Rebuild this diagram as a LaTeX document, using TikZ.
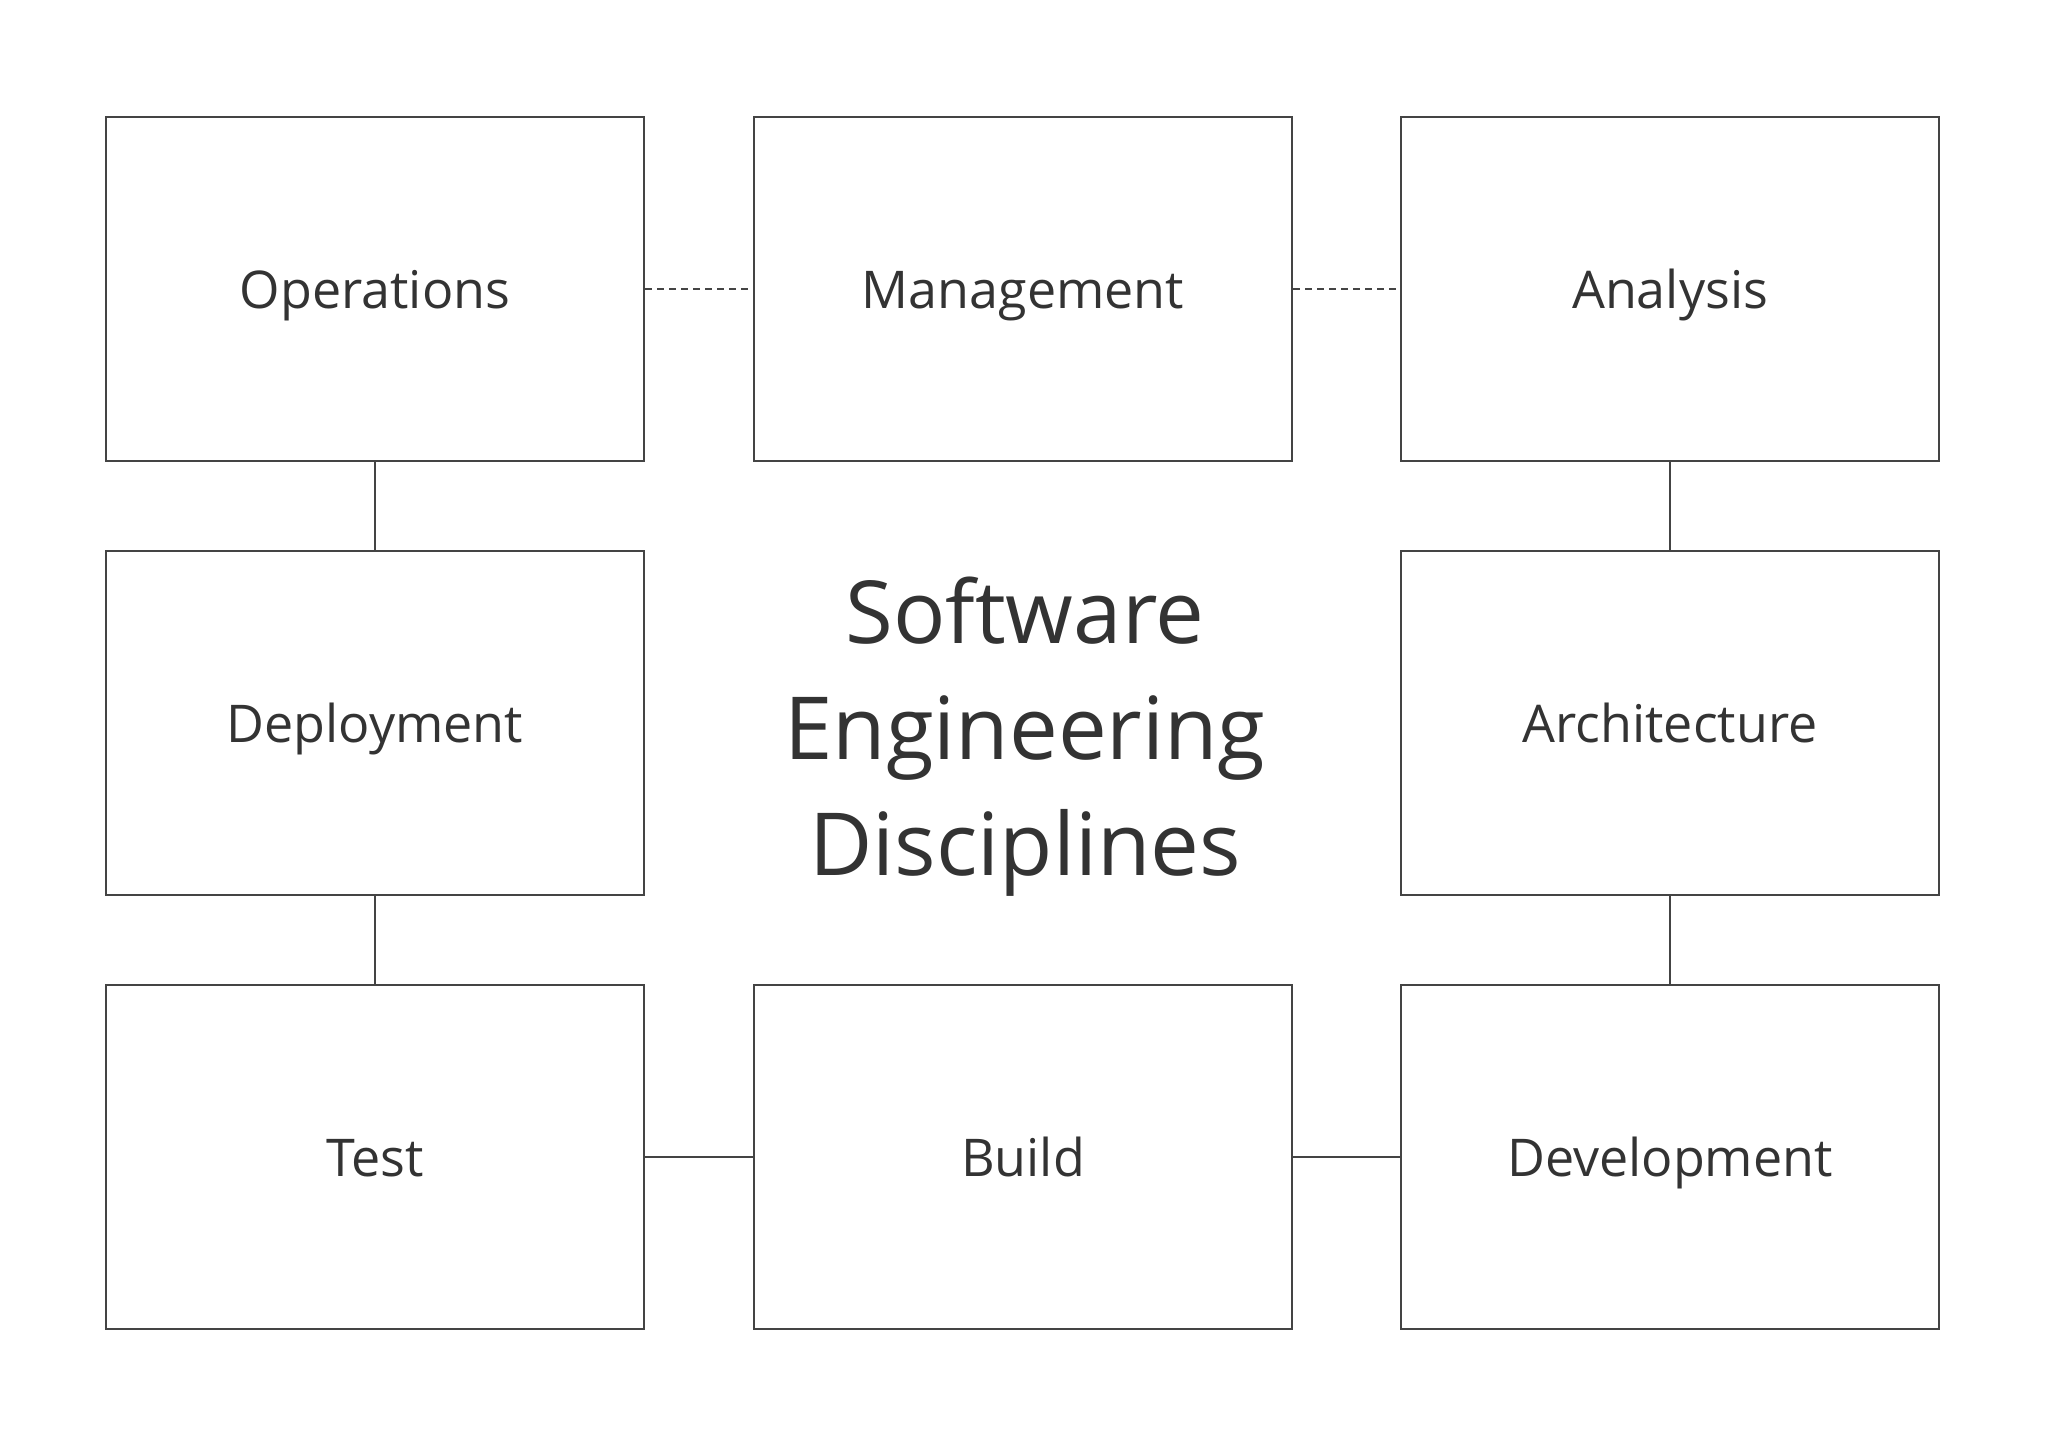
\documentclass[tikz,border=0pt]{standalone}
\usepackage{fontspec}
\setmainfont{Open Sans}
\definecolor{edge}{HTML}{444444}
\definecolor{ink}{HTML}{333333}
\tikzset{
  disc/.style={draw=edge, line width=1pt, minimum width=269pt, minimum height=172pt,
    inner sep=0pt, text height=19pt, text depth=0pt, text=ink,
    font=\fontsize{26}{30}\selectfont},
  link/.style={draw=edge, line width=1pt},
  weak/.style={link, dash pattern=on 3.5pt off 2.5pt}
}
\begin{document}
\begin{tikzpicture}[x=0.5pt, y=-0.5pt]
\fill[white] (0,0) rectangle (2048,1447);
\useasboundingbox (0,0) rectangle (2048,1447);
% top row
\node[disc] (ops) at (375,289) {Operations};
\node[disc] (mgmt) at (1023,289) {Management};
\node[disc] (ana) at (1670,289) {Analysis};
% middle row
\node[disc] (dep) at (375,723) {Deployment};
\node[disc] (arch) at (1670,723) {Architecture};
% bottom row
\node[disc] (test) at (375,1157) {Test};
\node[disc] (build) at (1023,1157) {Build};
\node[disc] (dev) at (1670,1157) {Development};
\node[text=ink, align=center, font=\fontsize{43.5}{58}\selectfont] (title) at (1025,737)
  {Software\\Engineering\\Disciplines};
% connectors
\draw[weak] (ops) -- (mgmt);
\draw[weak] (mgmt) -- (ana);
\draw[link] (ops) -- (dep);
\draw[link] (dep) -- (test);
\draw[link] (test) -- (build);
\draw[link] (build) -- (dev);
\draw[link] (ana) -- (arch);
\draw[link] (arch) -- (dev);
\end{tikzpicture}
\end{document}
